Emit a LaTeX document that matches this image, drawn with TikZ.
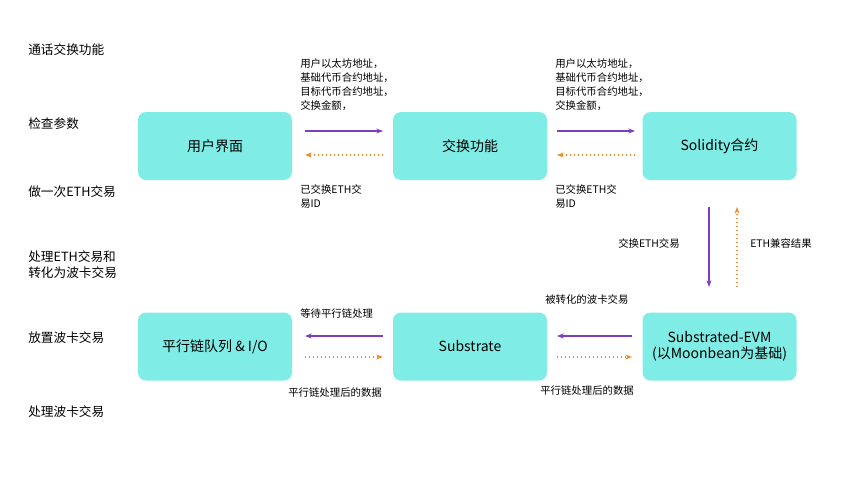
\documentclass[tikz,border=0pt]{standalone}
\usepackage{fontspec}
\setmainfont{Noto Sans CJK SC}
\usetikzlibrary{arrows.meta}
\begin{document}
\begin{tikzpicture}[x=0.75pt,y=-0.75pt,
 box/.style={fill=cyan!45!green!25!white,fill={rgb,255:red,127;green,237;blue,229},rounded corners=6pt,minimum width=115.5pt,minimum height=51pt,font=\fontsize{10.5}{12}\selectfont,inner sep=0},
 lab/.style={font=\fontsize{9.5}{12}\selectfont,anchor=west,align=left,inner sep=0},
 sm/.style={font=\fontsize{7.8}{10.5}\selectfont,anchor=west,align=left,inner sep=0},
 pa/.style={draw={rgb,255:red,123;green,63;blue,191},line width=0.9pt,-{Stealth[length=5pt]}},
 oa/.style={draw={rgb,255:red,240;green,138;blue,36},line width=1pt,dotted,-{Stealth[length=5pt]}}]
\useasboundingbox (0,0) rectangle (854,479);
\node[box] (a) at (215,146) {用户界面};
\node[box] (b) at (470,146) {交换功能};
\node[box] (c) at (719.5,146) {Solidity合约};
\node[box] (d) at (215,346.5) {平行链队列 \& I/O};
\node[box] (e) at (470,346.5) {Substrate};
\node[box,align=center] (f) at (719.5,346.5) {Substrated-EVM\\(以Moonbean为基础)};
\node[lab] (l1) at (28,50) {通话交换功能};
\node[lab] (l2) at (28,124) {检查参数};
\node[lab] (l3) at (28,192) {做一次ETH交易};
\node[lab] (l4) at (28,265) {处理ETH交易和\\转化为波卡交易};
\node[lab] (l5) at (28,338) {放置波卡交易};
\node[lab] (l6) at (28,412) {处理波卡交易};
\coordinate (p1) at (305,131); \coordinate (p2) at (383,131);
\coordinate (q1) at (305,155); \coordinate (q2) at (383,155);
\draw[pa] (p1) -- (p2); \draw[oa] (q2) -- (q1);
\coordinate (p3) at (557,131); \coordinate (p4) at (635,131);
\coordinate (q3) at (557,155); \coordinate (q4) at (635,155);
\draw[pa] (p3) -- (p4); \draw[oa] (q4) -- (q3);
\node[sm] (t1) at (300,85) {用户以太坊地址，\\基础代币合约地址，\\目标代币合约地址，\\交换金额，};
\node[sm] (t2) at (555,85) {用户以太坊地址，\\基础代币合约地址，\\目标代币合约地址，\\交换金额，};
\node[sm] (t3) at (300,197) {已交换ETH交\\易ID};
\node[sm] (t4) at (555,197) {已交换ETH交\\易ID};
\coordinate (v1) at (709,207); \coordinate (v2) at (709,287);
\coordinate (w1) at (737,207); \coordinate (w2) at (737,287);
\draw[pa] (v1) -- (v2); \draw[oa] (w2) -- (w1);
\node[sm] (t5) at (618,244) {交换ETH交易};
\node[sm] (t6) at (750,244) {ETH兼容结果};
\coordinate (r1) at (305,336); \coordinate (r2) at (383,336);
\coordinate (s1) at (305,357); \coordinate (s2) at (383,357);
\draw[pa] (r2) -- (r1); \draw[oa] (s1) -- (s2);
\coordinate (r3) at (557,336); \coordinate (r4) at (632,336);
\coordinate (s3) at (557,357); \coordinate (s4) at (632,357);
\draw[pa] (r4) -- (r3); \draw[oa] (s3) -- (s4);
\node[sm] (t7) at (300,314) {等待平行链处理};
\node[sm] (t8) at (545,300) {被转化的波卡交易};
\node[sm] (t9) at (288,393) {平行链处理后的数据};
\node[sm] (t10) at (540,391) {平行链处理后的数据};
\end{tikzpicture}
\end{document}
